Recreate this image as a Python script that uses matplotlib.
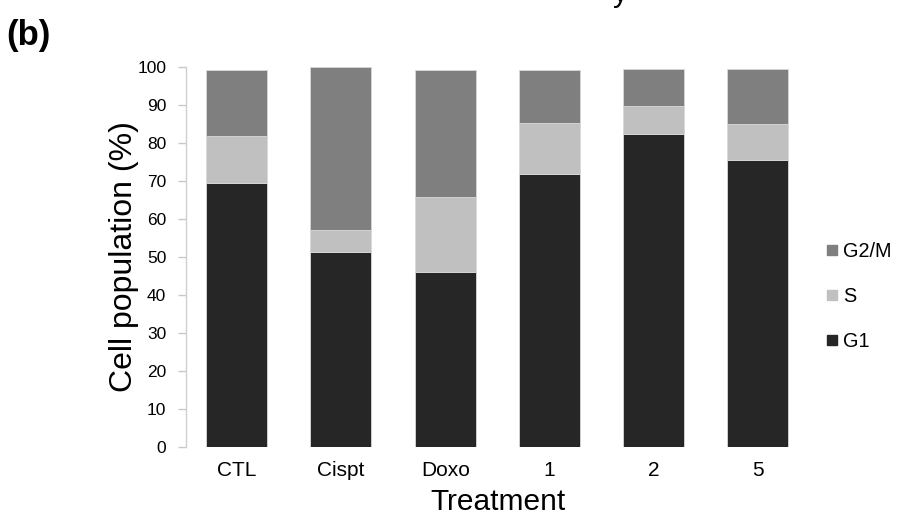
import matplotlib
matplotlib.use("Agg")
import matplotlib.pyplot as plt
from matplotlib.lines import Line2D
import numpy as np

plt.rcParams['font.family'] = ['Liberation Sans', 'DejaVu Sans']

treatments = ["CTL", "Cispt", "Doxo", "1", "2", "5"]
g1 = [69.3, 51.2, 45.9, 71.7, 82.2, 75.4]
s_phase = [12.5, 5.9, 19.9, 13.6, 7.4, 9.6]
g2m = [17.3, 42.8, 33.4, 13.8, 9.9, 14.4]

phase_names = ["G1", "S", "G2/M"]
phase_colors = ["#262626", "#c0c0c0", "#7f7f7f"]

fig = plt.figure(figsize=(8.97, 5.15), dpi=100)
ax = fig.add_axes([0.207, 0.1326, 0.696, 0.7379])

x = np.arange(len(treatments))
width = 0.585
bottom = np.zeros(len(treatments))
for vals, name, col in zip([g1, s_phase, g2m], phase_names, phase_colors):
    vals = np.array(vals)
    ax.bar(x, vals, width, bottom=bottom, color=col, edgecolor="#d8d8d8",
           linewidth=0.6, label=name)
    bottom += vals

ax.set_xlim(-0.49, 5.5)
ax.set_ylim(0, 100)
ax.set_yticks(range(0, 101, 10))
ax.set_xticks(x)
ax.set_xticklabels(treatments, fontsize=15)
ax.tick_params(axis="x", length=0, pad=10)
ax.tick_params(axis="y", length=6, width=1, color="#c8c8c8", labelsize=12.5, pad=8)

for side in ["top", "right", "bottom"]:
    ax.spines[side].set_visible(False)
ax.spines["left"].set_color("#d0d0d0")
ax.spines["left"].set_linewidth(1)

ax.set_xlabel("Treatment", fontsize=21.5, labelpad=6)
ax.set_ylabel("Cell population (%)", fontsize=23, labelpad=-1)

handles = [Line2D([], [], marker="s", linestyle="none", markersize=6.5,
                  markerfacecolor=c, markeredgecolor=c)
           for c in phase_colors[::-1]]
leg = fig.legend(handles, phase_names[::-1], loc="center left",
                 bbox_to_anchor=(0.921, 0.424), frameon=False, fontsize=14.3,
                 handlelength=0.55, handletextpad=0.3, labelspacing=1.3,
                 borderaxespad=0, borderpad=0)

fig.text(0.007, 0.912, "(b)", fontsize=25, fontweight="bold")
fig.text(0.683, 1 - 2.0 / 515, "y", fontsize=21.5, va="baseline")

fig.savefig("out.png", dpi=100)
